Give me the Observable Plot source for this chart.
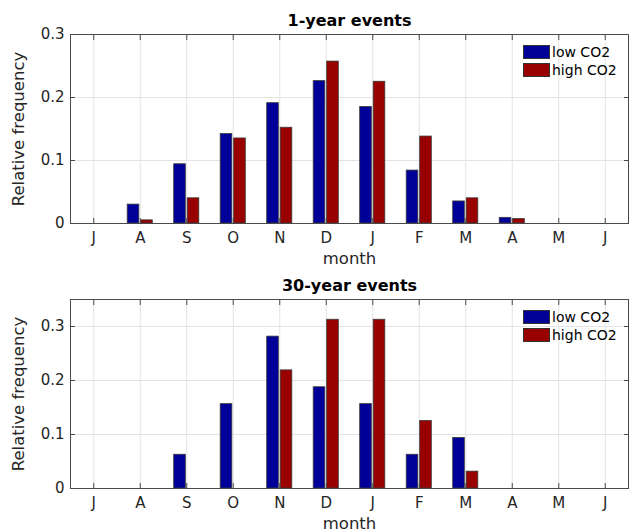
<!DOCTYPE html>
<html>
<head>
<meta charset="utf-8">
<script src="https://cdn.jsdelivr.net/npm/d3@7"></script>
<script src="https://cdn.jsdelivr.net/npm/@observablehq/plot@0.6"></script>
<style>
  html, body { margin: 0; padding: 0; background: #fff; }
  body { width: 629px; height: 530px; overflow: hidden; font-family: "DejaVu Sans", sans-serif; }
  .panel { position: relative; width: 629px; height: 265px; }
  .legend { position: absolute; left: 523px; top: 43px; font-size: 14px; color: #000; }
  .legend .row { display: flex; align-items: center; height: 18px; }
  .legend .sw { width: 27px; height: 14px; border: 1px solid #333; margin-right: 2px; box-sizing: border-box; }
</style>
</head>
<body>
<div id="chart"></div>
<script>
const months = ["J","A","S","O","N","D","J","F","M","A","M","J"];
const seriesNames = ["low CO2", "high CO2"];
const seriesColors = ["#000099", "#990000"];

const low1 = [0, 0.030, 0.094, 0.142, 0.191, 0.226, 0.185, 0.084, 0.035, 0.009, 0, 0];
const high1 = [0, 0.005, 0.040, 0.135, 0.152, 0.257, 0.225, 0.138, 0.040, 0.007, 0, 0];
const low30 = [0, 0, 0.0625, 0.15625, 0.28125, 0.1875, 0.15625, 0.0625, 0.09375, 0, 0, 0];
const high30 = [0, 0, 0, 0, 0.21875, 0.3125, 0.3125, 0.125, 0.03125, 0, 0, 0];

const yTicks1 = [0, 0.1, 0.2, 0.3];
const yTicks30 = [0, 0.1, 0.2, 0.3];

const panels = [
  {title: "1-year events", low: low1, high: high1, ymax: 0.3, yTicks: yTicks1},
  {title: "30-year events", low: low30, high: high30, ymax: 0.35, yTicks: yTicks30}
];

const xTicks = months.map((m, i) => i + 1);
const fmtY = d => d === 0 ? "0" : d.toFixed(1);
const ink = "#262626";

function makePanel(p) {
  const rows = [];
  months.forEach((m, i) => {
    rows.push({m: i + 1, s: 0, v: p.low[i]});
    rows.push({m: i + 1, s: 1, v: p.high[i]});
  });
  const bars = rows.filter(d => d.v > 0);
  const chart = Plot.plot({
    width: 629,
    height: 265,
    marginLeft: 70,
    marginRight: 1,
    marginTop: 34,
    marginBottom: 42,
    style: {fontFamily: "DejaVu Sans", background: "#fff", color: ink, overflow: "visible"},
    x: {domain: [0.5, 12.5]},
    y: {domain: [0, p.ymax]},
    marks: [
      Plot.gridX(xTicks, {stroke: "#e3e3e3", strokeOpacity: 1}),
      Plot.gridY(p.yTicks, {stroke: "#e3e3e3", strokeOpacity: 1}),
      Plot.rectY(bars, {
        x1: d => d.s === 0 ? d.m - 0.27 : d.m + 0.02,
        x2: d => d.s === 0 ? d.m - 0.02 : d.m + 0.27,
        y1: 0,
        y2: "v",
        fill: d => seriesColors[d.s],
        stroke: "#3a3a3a",
        strokeWidth: 0.8
      }),
      Plot.frame({stroke: "#4a4a4a", strokeWidth: 1}),
      // inward tick marks
      Plot.axisX(xTicks, {anchor: "bottom", tickSize: 5, dy: -5, text: null, stroke: "#4a4a4a", label: null}),
      Plot.axisX(xTicks, {anchor: "top", tickSize: 5, dy: 5, text: null, stroke: "#4a4a4a", label: null}),
      Plot.axisY(p.yTicks, {anchor: "left", tickSize: 5, dx: 5, text: null, stroke: "#4a4a4a", label: null}),
      Plot.axisY(p.yTicks, {anchor: "right", tickSize: 5, dx: -5, text: null, stroke: "#4a4a4a", label: null}),
      // tick labels
      Plot.axisX(xTicks, {anchor: "bottom", tickSize: 0, tickPadding: 9, tickFormat: i => months[i - 1], fontSize: 15, fill: ink, label: null}),
      Plot.axisY(p.yTicks, {anchor: "left", tickSize: 0, tickPadding: 6, tickFormat: fmtY, fontSize: 15, fill: ink, label: null}),
      // axis titles
      Plot.text(["month"], {frameAnchor: "bottom", lineAnchor: "middle", dy: 35, fontSize: 16.5, fill: ink}),
      Plot.text(["Relative frequency"], {frameAnchor: "left", textAnchor: "middle", lineAnchor: "middle", dx: -52, rotate: -90, fontSize: 16.5, fill: ink}),
      Plot.text([p.title], {frameAnchor: "top", lineAnchor: "middle", dy: -14, fontSize: 16, fontWeight: "bold", fill: "#000"})
    ]
  });
  const wrap = document.createElement("div");
  wrap.className = "panel";
  wrap.appendChild(chart);
  const lg = document.createElement("div");
  lg.className = "legend";
  seriesNames.forEach((n, i) => {
    const r = document.createElement("div");
    r.className = "row";
    const sw = document.createElement("span");
    sw.className = "sw";
    sw.style.background = seriesColors[i];
    const t = document.createElement("span");
    t.textContent = n;
    r.appendChild(sw);
    r.appendChild(t);
    lg.appendChild(r);
  });
  wrap.appendChild(lg);
  return wrap;
}

const root = document.getElementById("chart");
panels.forEach(p => root.appendChild(makePanel(p)));
</script>
</body>
</html>
